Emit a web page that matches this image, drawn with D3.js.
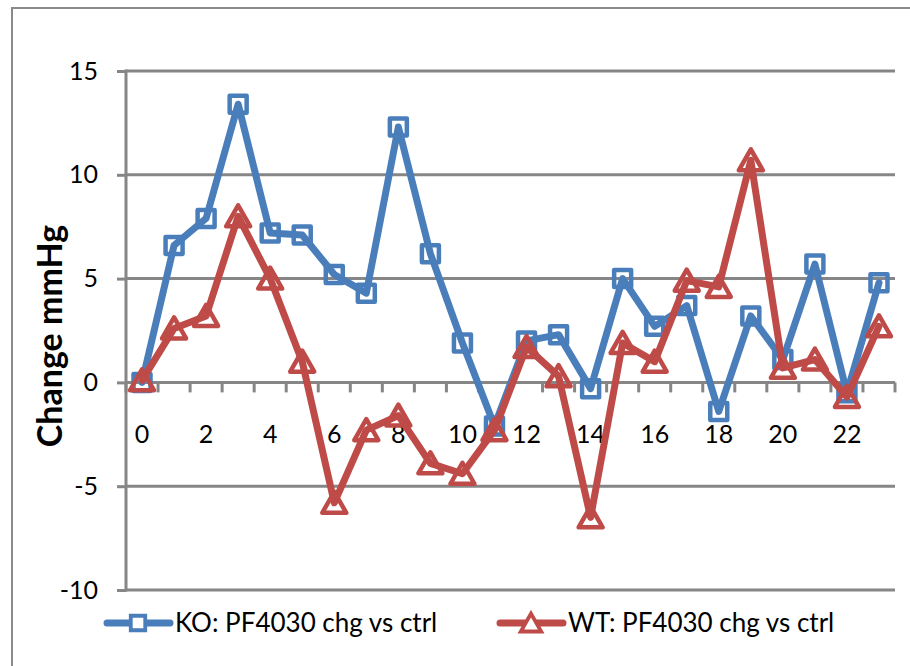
<!DOCTYPE html>
<html><head><meta charset="utf-8">
<script src="https://cdn.jsdelivr.net/npm/d3@7"></script>
<style>body{margin:0;background:#fff}svg{display:block}text{font-family:Lato,"Open Sans",sans-serif}</style>
</head><body><svg id="c" width="910" height="666"></svg>
<script>
const categories = d3.range(0, 24).map(String);
const koValues = [0, 6.6, 7.9, 13.4, 7.2, 7.1, 5.2, 4.3, 12.3, 6.2, 1.9, -2.1, 2.0, 2.3, -0.3, 5.0, 2.7, 3.7, -1.4, 3.2, 1.1, 5.7, -0.5, 4.8];
const wtValues = [0.1, 2.6, 3.2, 8.0, 5.0, 1.0, -5.8, -2.3, -1.6, -3.9, -4.4, -2.3, 1.7, 0.3, -6.5, 1.9, 1.0, 4.9, 4.6, 10.7, 0.7, 1.1, -0.7, 2.7];
const yTicks = [-10, -5, 0, 5, 10, 15];
const xLabels = ["0","2","4","6","8","10","12","14","16","18","20","22"];
const seriesNames = ["KO: PF4030 chg vs ctrl", "WT: PF4030 chg vs ctrl"];
const yTitle = "Change mmHg";

const svg = d3.select("#c");
const gridC = "#868686", blue = "#4A7EBB", red = "#BE4B48";
const pL = 126, pR = 895, pT = 71, pB = 590;
const x = d3.scaleBand().domain(categories).range([pL, pR]);
const y = d3.scaleLinear().domain([-10, 15]).range([pB, pT]);
const cx = c => x(c) + x.bandwidth() / 2;

// outer border
svg.append("rect").attr("x", 12).attr("y", 8).attr("width", 920).attr("height", 700)
  .attr("fill", "none").attr("stroke", "#8a8a8a").attr("stroke-width", 2);

// gridlines
svg.append("g").selectAll("line").data(yTicks.filter(t => t !== 0)).join("line")
  .attr("x1", pL).attr("x2", pR).attr("y1", d => y(d)).attr("y2", d => y(d))
  .attr("stroke", gridC).attr("stroke-width", 3);

// y axis
const yAxis = svg.append("g").attr("transform", `translate(${pL},0)`)
  .call(d3.axisLeft(y).tickValues(yTicks).tickSize(9).tickPadding(19).tickFormat(d => String(d)));
yAxis.select(".domain").attr("stroke", gridC).attr("stroke-width", 3).attr("d", `M0,${pT-1.5}V${pB+1.5}`);
yAxis.selectAll(".tick line").attr("stroke", gridC).attr("stroke-width", 3);
yAxis.selectAll(".tick text").attr("font-size", 25).attr("fill", "#000").attr("font-family", "Lato");

// x axis at zero
const xg = svg.append("g").attr("transform", `translate(0,${y(0)})`);
xg.append("line").attr("x1", pL).attr("x2", pR).attr("stroke", gridC).attr("stroke-width", 3);
const bounds = categories.map(c => x(c)).concat([pR]);
xg.selectAll("line.tk").data(bounds).join("line").attr("class", "tk")
  .attr("x1", d => d).attr("x2", d => d).attr("y1", 0).attr("y2", 10)
  .attr("stroke", gridC).attr("stroke-width", 3);
xg.selectAll("text").data(xLabels).join("text")
  .attr("x", d => cx(d)).attr("y", 52).attr("dy", "0.35em").attr("text-anchor", "middle")
  .attr("font-size", 25).text(d => d);

// y title
svg.append("text").attr("transform", `translate(62,336) rotate(-90)`).attr("text-anchor", "middle")
  .attr("font-size", 34).attr("font-weight", "bold").text(yTitle);

const line = d3.line().x((d, i) => cx(categories[i])).y(d => y(d));
const sqPath = "M-8.5,-8.5H8.5V8.5H-8.5Z";
const triPath = "M0,-11L12,10L-12,10Z";

function drawSeries(vals, color, markerPath) {
  svg.append("path").datum(vals).attr("d", line).attr("fill", "none")
    .attr("stroke", color).attr("stroke-width", 7).attr("stroke-linejoin", "round").attr("stroke-linecap", "round");
  svg.append("g").selectAll("path").data(vals).join("path")
    .attr("transform", (d, i) => `translate(${cx(categories[i])},${y(d)})`)
    .attr("d", markerPath).attr("fill", "none").attr("stroke", color).attr("stroke-width", 4.5).attr("stroke-linejoin", "round");
}
drawSeries(koValues, blue, sqPath);
drawSeries(wtValues, red, triPath);

// legend
const legend = [
  {name: seriesNames[0], color: blue, path: sqPath, x0: 107},
  {name: seriesNames[1], color: red, path: triPath, x0: 500}
];
const ly = 623;
legend.forEach(l => {
  const g = svg.append("g");
  g.append("line").attr("x1", l.x0).attr("x2", l.x0 + 63).attr("y1", ly).attr("y2", ly)
    .attr("stroke", l.color).attr("stroke-width", 7).attr("stroke-linecap", "round");
  g.append("path").attr("transform", `translate(${l.x0 + 31},${ly}) scale(0.85)`).attr("d", l.path)
    .attr("fill", "#fff").attr("stroke", l.color).attr("stroke-width", 4.5);
  g.append("text").attr("x", l.x0 + 68).attr("y", ly).attr("dy", "0.35em").attr("font-size", 26).text(l.name);
});
</script></body></html>
